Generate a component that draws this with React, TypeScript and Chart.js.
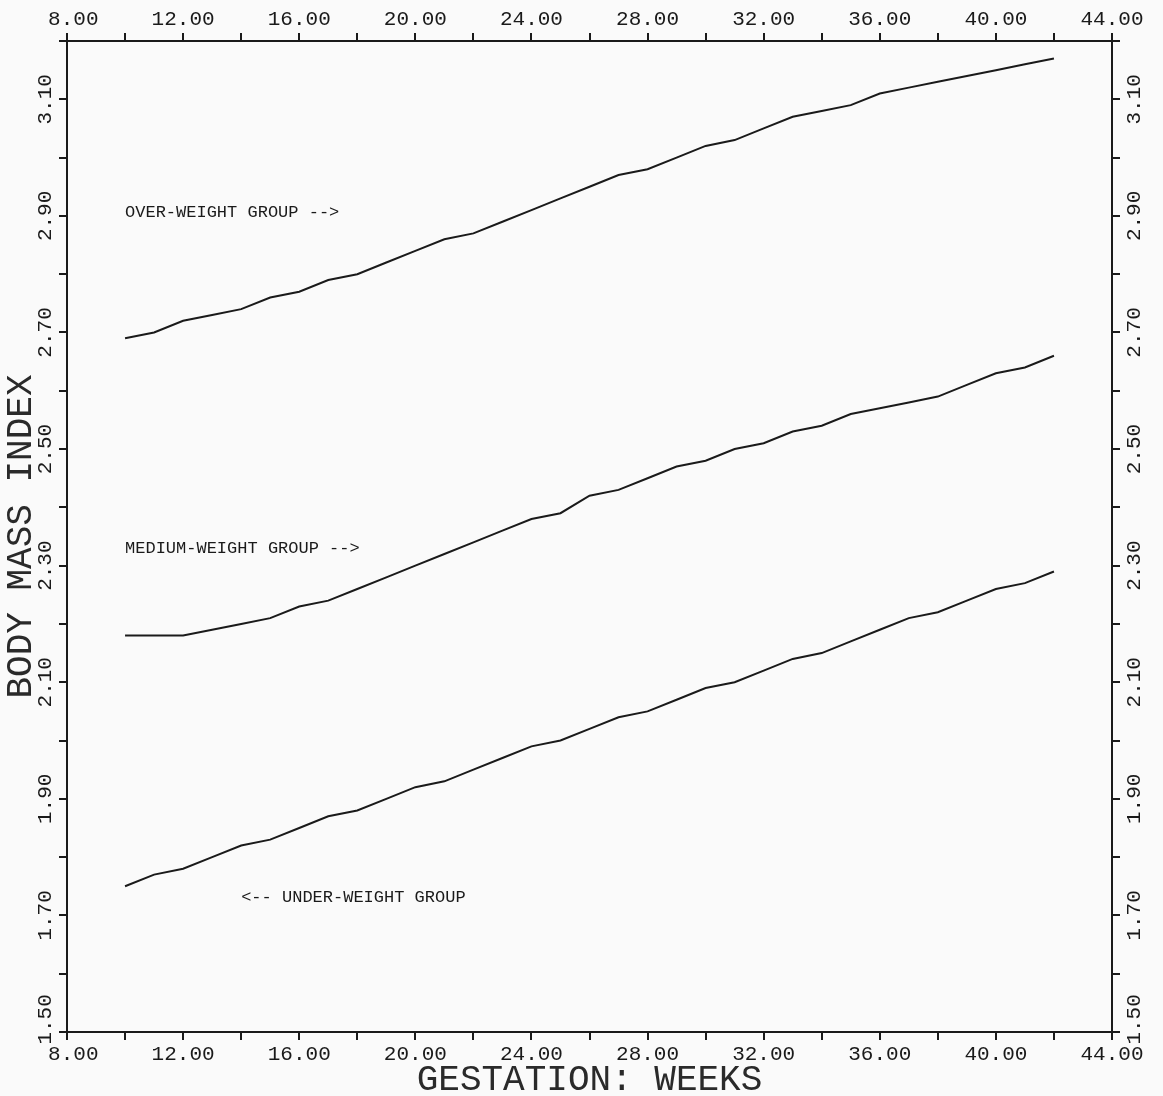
import React, { useEffect, useRef } from 'react';
import { Chart, registerables } from 'chart.js';

Chart.register(...registerables);

// ---- data ----
const weeks = [10, 11, 12, 13, 14, 15, 16, 17, 18, 19, 20, 21, 22, 23, 24, 25, 26, 27, 28, 29, 30, 31, 32, 33, 34, 35, 36, 37, 38, 39, 40, 41, 42];

const overWeight = [2.69, 2.70, 2.72, 2.73, 2.74, 2.76, 2.77, 2.79, 2.80, 2.82, 2.84, 2.86, 2.87, 2.89, 2.91, 2.93, 2.95, 2.97, 2.98, 3.00, 3.02, 3.03, 3.05, 3.07, 3.08, 3.09, 3.11, 3.12, 3.13, 3.14, 3.15, 3.16, 3.17];

const mediumWeight = [2.18, 2.18, 2.18, 2.19, 2.20, 2.21, 2.23, 2.24, 2.26, 2.28, 2.30, 2.32, 2.34, 2.36, 2.38, 2.39, 2.42, 2.43, 2.45, 2.47, 2.48, 2.50, 2.51, 2.53, 2.54, 2.56, 2.57, 2.58, 2.59, 2.61, 2.63, 2.64, 2.66];

const underWeight = [1.75, 1.77, 1.78, 1.80, 1.82, 1.83, 1.85, 1.87, 1.88, 1.90, 1.92, 1.93, 1.95, 1.97, 1.99, 2.00, 2.02, 2.04, 2.05, 2.07, 2.09, 2.10, 2.12, 2.14, 2.15, 2.17, 2.19, 2.21, 2.22, 2.24, 2.26, 2.27, 2.29];

const xTicks = [8, 10, 12, 14, 16, 18, 20, 22, 24, 26, 28, 30, 32, 34, 36, 38, 40, 42, 44];
const xLabeled = [8, 12, 16, 20, 24, 28, 32, 36, 40, 44];
const yTicks = [1.5, 1.6, 1.7, 1.8, 1.9, 2.0, 2.1, 2.2, 2.3, 2.4, 2.5, 2.6, 2.7, 2.8, 2.9, 3.0, 3.1, 3.2];
const yLabeled = [1.5, 1.7, 1.9, 2.1, 2.3, 2.5, 2.7, 2.9, 3.1];

const annotationTexts = ['OVER-WEIGHT GROUP -->', 'MEDIUM-WEIGHT GROUP -->', '<-- UNDER-WEIGHT GROUP'];
const annotationX = [10, 10, 14];
const annotationY = [2.905, 2.33, 1.73];

const xTitle = 'GESTATION: WEEKS';
const yTitle = 'BODY MASS INDEX';

// ---- styles ----
const FONT = '"Liberation Mono", "DejaVu Sans Mono", monospace';
const INK = '#1a1a1a';
const TITLE_INK = '#2a2a2a';
const BG = '#fafafa';

const has = (arr: number[], v: number) => arr.some((a) => Math.abs(a - v) < 1e-6);

function xScale(position: 'top' | 'bottom', height: number, padding: number, withTitle: boolean) {
  return {
    type: 'linear' as const,
    axis: 'x' as const,
    position,
    min: 8,
    max: 44,
    afterBuildTicks: (s: any) => {
      s.ticks = xTicks.map((v) => ({ value: v }));
    },
    afterFit: (s: any) => {
      s.height = height;
    },
    ticks: {
      autoSkip: false,
      minRotation: 0,
      maxRotation: 0,
      padding,
      color: INK,
      font: { family: FONT, size: 21 },
      callback: (v: any) => (has(xLabeled, Number(v)) ? Number(v).toFixed(2).padStart(5, ' ') : ''),
    },
    grid: { display: true, drawOnChartArea: false, drawTicks: true, tickLength: 8, color: INK, lineWidth: 2 },
    border: { display: true, color: INK, width: 2 },
    title: withTitle
      ? { display: true, text: xTitle, color: TITLE_INK, font: { family: FONT, size: 36 }, padding: { top: 0, bottom: -6 } }
      : { display: false },
  };
}

function yScale(position: 'left' | 'right', width: number, padding: number, withTitle: boolean) {
  return {
    type: 'linear' as const,
    axis: 'y' as const,
    position,
    min: 1.5,
    max: 3.2,
    afterBuildTicks: (s: any) => {
      s.ticks = yTicks.map((v) => ({ value: v }));
    },
    afterFit: (s: any) => {
      s.width = width;
    },
    ticks: {
      autoSkip: false,
      minRotation: 90,
      maxRotation: 90,
      crossAlign: 'center' as const,
      padding,
      color: INK,
      font: { family: FONT, size: 21 },
      callback: (v: any) => {
        const n = Number(v);
        if (!has(yLabeled, n)) return '';
        const s = n.toFixed(2);
        // the lowest label is nudged up, clear of the x-axis labels, as in the original
        return Math.abs(n - yLabeled[0]) < 1e-6 ? s.padStart(6, ' ') : s;
      },
    },
    grid: { display: true, drawOnChartArea: false, drawTicks: true, tickLength: 8, color: INK, lineWidth: 2 },
    border: { display: true, color: INK, width: 2 },
    title: withTitle
      ? { display: true, text: yTitle, color: TITLE_INK, font: { family: FONT, size: 36 }, padding: { top: 0, bottom: 0 } }
      : { display: false },
  };
}

const backgroundPlugin = {
  id: 'bg',
  beforeDraw(chart: any) {
    const { ctx, width, height } = chart;
    ctx.save();
    ctx.fillStyle = BG;
    ctx.fillRect(0, 0, width, height);
    ctx.restore();
  },
};

const annotationPlugin = {
  id: 'groupLabels',
  afterDatasetsDraw(chart: any) {
    const { ctx } = chart;
    const xs = chart.scales.x;
    const ys = chart.scales.y;
    ctx.save();
    ctx.fillStyle = INK;
    ctx.font = `17px ${FONT}`;
    ctx.textAlign = 'left';
    ctx.textBaseline = 'middle';
    annotationTexts.forEach((t, i) => {
      ctx.fillText(t, xs.getPixelForValue(annotationX[i]), ys.getPixelForValue(annotationY[i]));
    });
    ctx.restore();
  },
};

const lineStyle = {
  borderColor: INK,
  borderWidth: 2,
  pointRadius: 0,
  tension: 0,
  fill: false,
  xAxisID: 'x',
  yAxisID: 'y',
};

export default function App() {
  const ref = useRef<HTMLCanvasElement>(null);

  useEffect(() => {
    if (!ref.current) return;
    const chart = new Chart(ref.current, {
      type: 'line',
      data: {
        datasets: [
          { label: 'Over-weight group', data: weeks.map((w, i) => ({ x: w, y: overWeight[i] })), ...lineStyle },
          { label: 'Medium-weight group', data: weeks.map((w, i) => ({ x: w, y: mediumWeight[i] })), ...lineStyle },
          { label: 'Under-weight group', data: weeks.map((w, i) => ({ x: w, y: underWeight[i] })), ...lineStyle },
        ],
      },
      options: {
        responsive: false,
        animation: false,
        devicePixelRatio: 1,
        layout: { padding: 0 },
        plugins: {
          legend: { display: false },
          tooltip: { enabled: false },
        },
        scales: {
          x: xScale('bottom', 64, 2, true),
          x2: xScale('top', 41, 1, false),
          y: yScale('left', 67, -24, true),
          y2: yScale('right', 51, -23, false),
        } as any,
      },
      plugins: [backgroundPlugin, annotationPlugin],
    });
    return () => chart.destroy();
  }, []);

  return (
    <div style={{ position: 'fixed', left: 0, top: 0, width: 1163, height: 1096, background: BG }}>
      <canvas ref={ref} width={1163} height={1096} style={{ display: 'block', width: 1163, height: 1096 }} />
    </div>
  );
}
